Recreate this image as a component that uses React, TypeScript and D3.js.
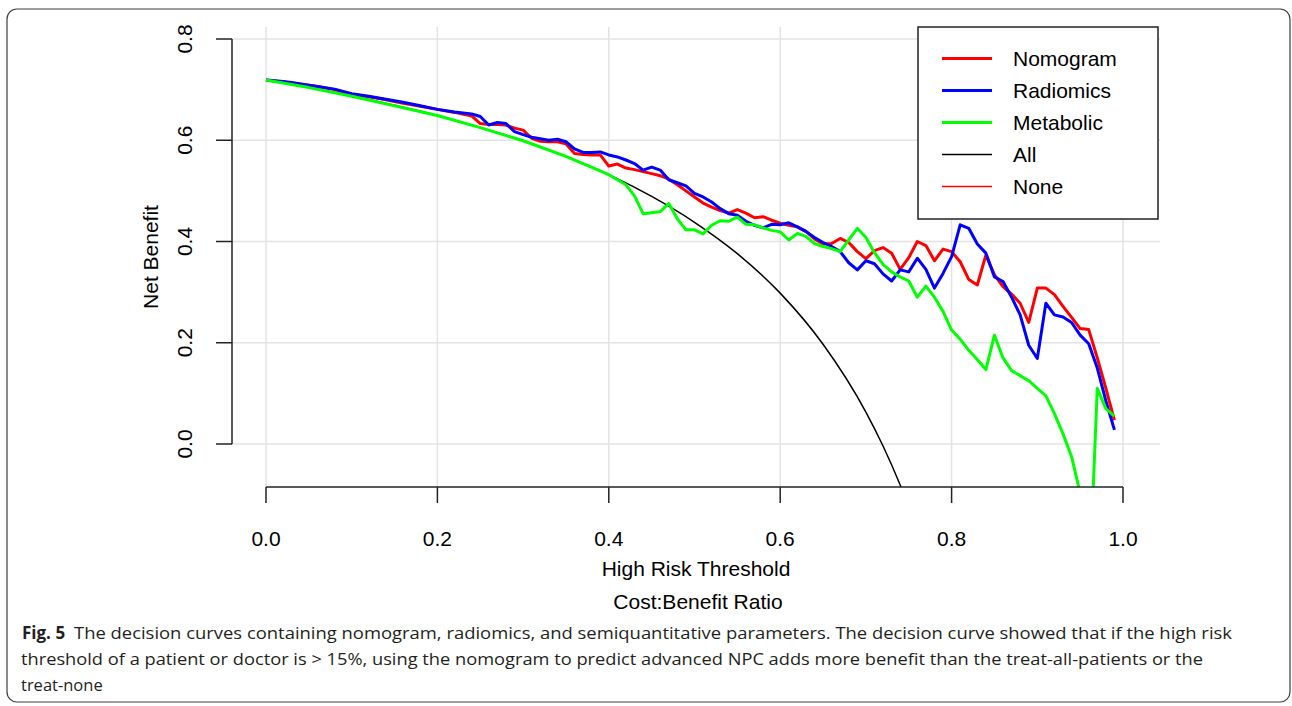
import React from "react";
import * as d3 from "d3";

type Pt = [number, number];

// Net benefit by high-risk threshold for each model
const nomogram: Pt[] = [
  [0, 0.719], [0.02, 0.715], [0.04, 0.711], [0.06, 0.706], [0.08, 0.7], [0.1, 0.691],
  [0.12, 0.686], [0.14, 0.68], [0.16, 0.673], [0.18, 0.667], [0.2, 0.661], [0.22, 0.655],
  [0.24, 0.648], [0.25, 0.633], [0.26, 0.631], [0.27, 0.631], [0.28, 0.63], [0.29, 0.624],
  [0.3, 0.62], [0.31, 0.604], [0.32, 0.598], [0.33, 0.597], [0.34, 0.597], [0.35, 0.593],
  [0.36, 0.574], [0.37, 0.572], [0.38, 0.571], [0.39, 0.571], [0.4, 0.549], [0.41, 0.553],
  [0.42, 0.545], [0.43, 0.542], [0.44, 0.538], [0.45, 0.534], [0.46, 0.53], [0.47, 0.523],
  [0.48, 0.512], [0.49, 0.5], [0.5, 0.488], [0.51, 0.476], [0.52, 0.468], [0.53, 0.461],
  [0.54, 0.456], [0.55, 0.463], [0.56, 0.456], [0.57, 0.447], [0.58, 0.449], [0.59, 0.442],
  [0.6, 0.436], [0.61, 0.432], [0.62, 0.429], [0.63, 0.42], [0.64, 0.405], [0.65, 0.395],
  [0.66, 0.396], [0.67, 0.406], [0.68, 0.398], [0.69, 0.38], [0.7, 0.366], [0.71, 0.382],
  [0.72, 0.388], [0.73, 0.377], [0.74, 0.345], [0.75, 0.368], [0.76, 0.4], [0.77, 0.392],
  [0.78, 0.362], [0.79, 0.385], [0.8, 0.38], [0.81, 0.36], [0.82, 0.325], [0.83, 0.314],
  [0.84, 0.373], [0.85, 0.334], [0.86, 0.311], [0.87, 0.296], [0.88, 0.278], [0.89, 0.24],
  [0.9, 0.308], [0.91, 0.308], [0.92, 0.295], [0.93, 0.272], [0.94, 0.25], [0.95, 0.228],
  [0.96, 0.226], [0.97, 0.17], [0.98, 0.11], [0.99, 0.047],
];

const radiomics: Pt[] = [
  [0, 0.719], [0.02, 0.716], [0.03, 0.714], [0.04, 0.711], [0.06, 0.706], [0.08, 0.701],
  [0.1, 0.692], [0.12, 0.687], [0.14, 0.681], [0.16, 0.675], [0.18, 0.668], [0.2, 0.661],
  [0.22, 0.656], [0.24, 0.652], [0.25, 0.647], [0.26, 0.63], [0.27, 0.635], [0.28, 0.633],
  [0.29, 0.617], [0.3, 0.611], [0.31, 0.606], [0.32, 0.603], [0.33, 0.6], [0.34, 0.602],
  [0.35, 0.597], [0.36, 0.583], [0.37, 0.576], [0.38, 0.576], [0.39, 0.577], [0.4, 0.571],
  [0.41, 0.567], [0.42, 0.561], [0.43, 0.554], [0.44, 0.541], [0.45, 0.547], [0.46, 0.541],
  [0.47, 0.522], [0.48, 0.516], [0.49, 0.51], [0.5, 0.495], [0.51, 0.488], [0.52, 0.478],
  [0.53, 0.465], [0.54, 0.455], [0.55, 0.452], [0.56, 0.44], [0.57, 0.432], [0.58, 0.427],
  [0.59, 0.434], [0.6, 0.433], [0.61, 0.437], [0.62, 0.429], [0.63, 0.42], [0.64, 0.408],
  [0.65, 0.398], [0.66, 0.39], [0.67, 0.38], [0.68, 0.358], [0.69, 0.344], [0.7, 0.362],
  [0.71, 0.356], [0.72, 0.336], [0.73, 0.322], [0.74, 0.344], [0.75, 0.34], [0.76, 0.367],
  [0.77, 0.345], [0.78, 0.308], [0.79, 0.337], [0.8, 0.37], [0.81, 0.433], [0.82, 0.426],
  [0.83, 0.395], [0.84, 0.377], [0.85, 0.33], [0.86, 0.321], [0.87, 0.29], [0.88, 0.255],
  [0.89, 0.195], [0.9, 0.169], [0.91, 0.278], [0.92, 0.255], [0.93, 0.251], [0.94, 0.24],
  [0.95, 0.215], [0.96, 0.198], [0.97, 0.15], [0.98, 0.085], [0.99, 0.028],
];

const metabolic: Pt[] = [
  [0, 0.719], [0.05, 0.704], [0.1, 0.687], [0.15, 0.668], [0.2, 0.649], [0.25, 0.625],
  [0.3, 0.599], [0.35, 0.568], [0.4, 0.532], [0.41, 0.522], [0.42, 0.512], [0.43, 0.49],
  [0.44, 0.455], [0.45, 0.457], [0.46, 0.459], [0.47, 0.475], [0.48, 0.445], [0.49, 0.423],
  [0.5, 0.423], [0.51, 0.415], [0.52, 0.432], [0.53, 0.441], [0.54, 0.44], [0.55, 0.448],
  [0.56, 0.434], [0.57, 0.433], [0.58, 0.427], [0.59, 0.422], [0.6, 0.419], [0.61, 0.403],
  [0.62, 0.416], [0.63, 0.41], [0.64, 0.396], [0.65, 0.39], [0.66, 0.386], [0.67, 0.38],
  [0.68, 0.403], [0.69, 0.426], [0.7, 0.408], [0.71, 0.378], [0.72, 0.355], [0.73, 0.34],
  [0.74, 0.33], [0.75, 0.322], [0.76, 0.29], [0.77, 0.312], [0.78, 0.29], [0.79, 0.262],
  [0.8, 0.225], [0.81, 0.207], [0.82, 0.185], [0.83, 0.167], [0.84, 0.147], [0.85, 0.215],
  [0.86, 0.17], [0.87, 0.145], [0.88, 0.135], [0.89, 0.125], [0.9, 0.11], [0.91, 0.095],
  [0.92, 0.06], [0.93, 0.02], [0.94, -0.025], [0.95, -0.097], [0.96, -0.305], [0.97, 0.11],
  [0.98, 0.07], [0.99, 0.055],
];

// Treat-all reference strategy
const treatAll: Pt[] = [
  [0, 0.719], [0.05, 0.704], [0.1, 0.688], [0.15, 0.669], [0.2, 0.649], [0.25, 0.625],
  [0.3, 0.599], [0.35, 0.568], [0.4, 0.532], [0.45, 0.489], [0.5, 0.438], [0.55, 0.376],
  [0.6, 0.298], [0.65, 0.197], [0.7, 0.063], [0.72, -0.004], [0.74, -0.081], [0.75, -0.124],
];

const xTicks = [0, 0.2, 0.4, 0.6, 0.8, 1.0];
const yTicks = [0, 0.2, 0.4, 0.6, 0.8];

const legendItems = [
  { label: "Nomogram", color: "#ff0000", width: 3 },
  { label: "Radiomics", color: "#0000ff", width: 3 },
  { label: "Metabolic", color: "#00ff00", width: 3 },
  { label: "All", color: "#000000", width: 1.5 },
  { label: "None", color: "#ff0000", width: 1.5 },
];

const captionLines = [
  "The decision curves containing nomogram, radiomics, and semiquantitative parameters. The decision curve showed that if the high risk",
  "threshold of a patient or doctor is > 15%, using the nomogram to predict advanced NPC adds more benefit than the treat-all-patients or the",
  "treat-none",
];

const W = 1292;
const H = 706;
const plot = { left: 232, right: 1160, top: 27, bottom: 487 };

export default function App() {
  const x = d3.scaleLinear().domain([0, 1]).range([266, 1123]);
  const y = d3.scaleLinear().domain([0, 0.8]).range([444, 39]);

  const jag = d3.line<Pt>().x((d) => x(d[0])).y((d) => y(d[1]));
  const smooth = d3
    .line<Pt>()
    .x((d) => x(d[0]))
    .y((d) => y(d[1]))
    .curve(d3.curveMonotoneX);

  const axisColor = "#222";
  const grid = "#e3e3e3";
  const font = '"Liberation Sans", Arial, sans-serif';

  return (
    <svg
      width={W}
      height={H}
      style={{ position: "absolute", left: 0, top: 0, fontFamily: font }}
    >
      <rect x={0} y={0} width={W} height={H} fill="#fff" />
      <rect x={7} y={9} width={1283} height={693} rx={10} fill="#fff" stroke="#3c3c3c" strokeWidth={1.2} />

      <defs>
        <clipPath id="plotClip">
          <rect x={plot.left} y={plot.top} width={plot.right - plot.left} height={plot.bottom - plot.top} />
        </clipPath>
      </defs>

      {/* grid */}
      {xTicks.map((t) => (
        <line key={"gx" + t} x1={x(t)} x2={x(t)} y1={plot.top} y2={plot.bottom} stroke={grid} strokeWidth={1.5} />
      ))}
      {yTicks.map((t) => (
        <line key={"gy" + t} x1={plot.left} x2={plot.right} y1={y(t)} y2={y(t)} stroke={grid} strokeWidth={1.5} />
      ))}

      {/* curves */}
      <g clipPath="url(#plotClip)" fill="none" strokeLinejoin="round">
        <path d={smooth(treatAll) ?? ""} stroke="#000" strokeWidth={1.5} />
        <path d={jag(nomogram) ?? ""} stroke="#ff0000" strokeWidth={3} />
        <path d={jag(radiomics) ?? ""} stroke="#0000ff" strokeWidth={3} />
        <path d={jag(metabolic) ?? ""} stroke="#00ff00" strokeWidth={3} />
      </g>

      {/* y axis */}
      <line x1={plot.left} x2={plot.left} y1={y(0)} y2={y(0.8)} stroke={axisColor} strokeWidth={1.5} />
      {yTicks.map((t) => (
        <g key={"yt" + t}>
          <line x1={plot.left - 16} x2={plot.left} y1={y(t)} y2={y(t)} stroke={axisColor} strokeWidth={1.5} />
          <text
            transform={`translate(192,${y(t)}) rotate(-90)`}
            textAnchor="middle"
            fontSize={21}
            fill="#000"
          >
            {d3.format(".1f")(t)}
          </text>
        </g>
      ))}

      {/* x axis */}
      <line x1={x(0)} x2={x(1)} y1={plot.bottom} y2={plot.bottom} stroke={axisColor} strokeWidth={1.5} />
      {xTicks.map((t) => (
        <g key={"xt" + t}>
          <line x1={x(t)} x2={x(t)} y1={plot.bottom} y2={plot.bottom + 16} stroke={axisColor} strokeWidth={1.5} />
          <text x={x(t)} y={545.5} textAnchor="middle" fontSize={21} fill="#000">
            {d3.format(".1f")(t)}
          </text>
        </g>
      ))}

      {/* axis titles */}
      <text x={696} y={576} textAnchor="middle" fontSize={21} fill="#000">
        High Risk Threshold
      </text>
      <text x={698} y={609} textAnchor="middle" fontSize={21} fill="#000">
        Cost:Benefit Ratio
      </text>
      <text transform="translate(158,257) rotate(-90)" textAnchor="middle" fontSize={21} fill="#000">
        Net Benefit
      </text>

      {/* legend */}
      <rect x={918} y={27} width={240} height={192} fill="#fff" stroke="#222" strokeWidth={1.5} />
      {legendItems.map((it, i) => {
        const cy = 58.5 + i * 32;
        return (
          <g key={it.label}>
            <line x1={942} x2={992} y1={cy} y2={cy} stroke={it.color} strokeWidth={it.width} />
            <text x={1013} y={cy + 7.5} fontSize={21} fill="#000">
              {it.label}
            </text>
          </g>
        );
      })}

      {/* caption */}
      <g fontFamily='"Open Sans", "Noto Sans", sans-serif' fontSize={16.5} fill="#231f20">
        <text x={22} y={639} fontWeight="bold" fontSize={17}>
          Fig. 5
        </text>
        <text x={74} y={639} textLength={1158} lengthAdjust="spacingAndGlyphs">
          {captionLines[0]}
        </text>
        <text x={21} y={665} textLength={1182} lengthAdjust="spacingAndGlyphs">
          {captionLines[1]}
        </text>
        <text x={21} y={691}>
          {captionLines[2]}
        </text>
      </g>
    </svg>
  );
}
